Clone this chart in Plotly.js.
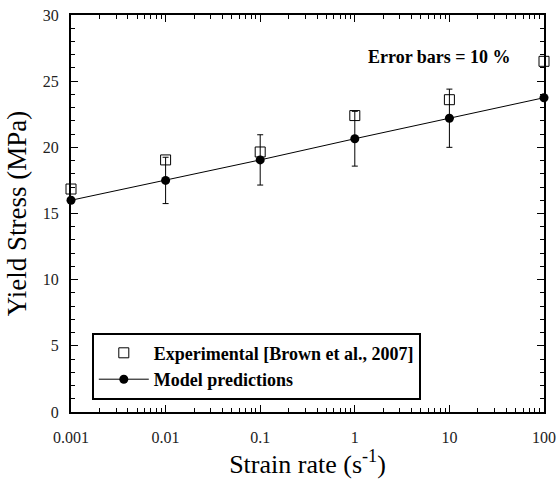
<!DOCTYPE html>
<html>
<head>
<meta charset="utf-8">
<script src="https://cdn.plot.ly/plotly-3.0.1.min.js"></script>
<style>html,body{margin:0;padding:0;background:#fff;}#chart{width:559px;height:482px;}</style>
</head>
<body>
<div id="chart"></div>
<script>
// Data
const strainRates = [0.001, 0.01, 0.1, 1, 10, 100];
const experimental = [16.85, 19.05, 19.65, 22.4, 23.6, 26.5];
const model = [16.0, 17.5, 19.05, 20.65, 22.2, 23.75];
const modelError = [null, 1.75, 1.9, 2.07, 2.2, null];
const xTickVals = [0.001, 0.01, 0.1, 1, 10, 100];
const xTickText = ['0.001', '0.01', '0.1', '1', '10', '100'];
const yTickVals = [0, 5, 10, 15, 20, 25, 30];

const FONT = 'Liberation Serif, Times New Roman, serif';

// minor tick positions for the log axis (2..9 in each decade)
const xMinor = [];
for (let d = -3; d < 2; d++) {
  for (let m = 2; m <= 9; m++) xMinor.push(m * Math.pow(10, d));
}

const traces = [
  {
    x: strainRates, y: experimental,
    type: 'scatter', mode: 'markers',
    name: '<b>Experimental [Brown et al., 2007]</b>',
    marker: {symbol: 'square-open', size: 10, color: '#000', line: {width: 1, color: '#000'}},
    cliponaxis: false
  },
  {
    x: strainRates, y: model,
    type: 'scatter', mode: 'lines+markers',
    name: '<b>Model predictions</b>',
    line: {color: '#000', width: 1},
    marker: {symbol: 'circle', size: 9, color: '#000'},
    error_y: {type: 'data', array: modelError, symmetric: true, color: '#000', thickness: 1, width: 3},
    cliponaxis: false
  }
];

const layout = {
  width: 559, height: 482,
  margin: {l: 71, r: 15, t: 15, b: 70},
  paper_bgcolor: '#fff', plot_bgcolor: '#fff',
  font: {family: FONT, color: '#000'},
  showlegend: true,
  legend: {
    x: 0.044, y: 0.2, xanchor: 'left', yanchor: 'top',
    bordercolor: '#000', borderwidth: 2, bgcolor: '#fff',
    font: {family: FONT, size: 18, color: '#000'},
    itemwidth: 50,
    tracegroupgap: 0
  },
  xaxis: {
    type: 'log', range: [-3, 2],
    tickmode: 'array', tickvals: xTickVals, ticktext: xTickText,
    ticks: 'inside', ticklen: 7, tickwidth: 1, tickcolor: '#000',
    minor: {tickmode: 'array', tickvals: xMinor, ticks: 'inside', ticklen: 4, tickwidth: 1, tickcolor: '#000'},
    showline: true, linecolor: '#000', linewidth: 2, mirror: 'ticks',
    showgrid: false, zeroline: false,
    tickfont: {family: FONT, size: 16, color: '#222'},
    ticklabelstandoff: 10,
    title: {text: 'Strain rate (s<sup>-1</sup>)', font: {family: FONT, size: 26, color: '#000'}, standoff: 8},
    automargin: false
  },
  yaxis: {
    range: [0, 30],
    tickmode: 'array', tickvals: yTickVals,
    ticks: 'inside', ticklen: 7, tickwidth: 1, tickcolor: '#000',
    minor: {dtick: 1, ticks: 'inside', ticklen: 4, tickwidth: 1, tickcolor: '#000'},
    showline: true, linecolor: '#000', linewidth: 2, mirror: 'ticks',
    showgrid: false, zeroline: false,
    tickfont: {family: FONT, size: 16, color: '#222'},
    ticklabelstandoff: 7,
    title: {text: 'Yield Stress (MPa)', font: {family: FONT, size: 27, color: '#000'}, standoff: 8},
    automargin: false
  },
  annotations: [{
    xref: 'paper', yref: 'paper', x: 0.78, y: 0.894,
    xanchor: 'center', yanchor: 'middle', showarrow: false,
    text: '<b>Error bars = 10 %</b>',
    font: {family: FONT, size: 18, color: '#000'}
  }]
};

Plotly.newPlot('chart', traces, layout, {displayModeBar: false, staticPlot: true});
</script>
</body>
</html>
